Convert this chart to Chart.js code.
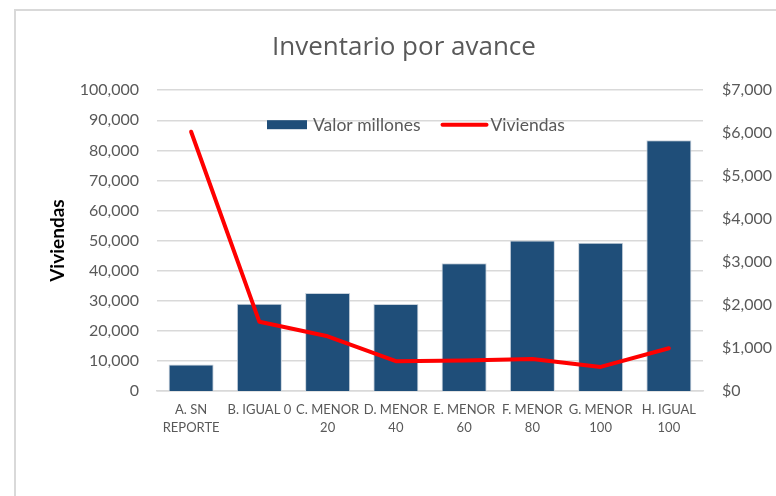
<!DOCTYPE html>
<html>
<head>
<meta charset="utf-8">
<script src="https://cdn.jsdelivr.net/npm/chart.js@4"></script>
<style>
  html, body { margin: 0; padding: 0; background: #fff; overflow: hidden; width: 776px; height: 496px; }
  #marco {
    position: absolute; left: 14px; top: 9px; width: 800px; height: 520px;
    border-left: 2px solid #d9d9d9; border-top: 2px solid #d9d9d9;
  }
  #grafico { position: absolute; left: 0; top: 0; }
</style>
</head>
<body>
<div id="marco"><canvas id="grafico" width="776" height="496"></canvas></div>
<script>
// ============================
// DATOS
// ============================
const categorias = [
    ["A. SN", "REPORTE"], ["B. IGUAL 0"], ["C. MENOR", "20"], ["D. MENOR", "40"],
    ["E. MENOR", "60"], ["F. MENOR", "80"], ["G. MENOR", "100"], ["H. IGUAL", "100"]
];
const valorMillones = [615, 2030, 2280, 2025, 2970, 3505, 3450, 5835];
const viviendas = [86200, 23000, 18200, 9900, 10150, 10650, 8000, 14200];

const ticksViviendas = [0, 100000, 10000];   // min, max, paso
const ticksValor = [0, 7000, 1000];

const fuente = "Lato, 'Open Sans', sans-serif";
const gris = "#595959";

// ============================
// LEYENDA DENTRO DEL AREA
// ============================
const leyendaInterna = {
    id: "leyendaInterna",
    afterDatasetsDraw(chart) {
        const ctx = chart.ctx;
        const area = chart.chartArea;
        const ds = chart.data.datasets;
        let x = area.left + 110;
        const y = area.top + 34.5;

        ctx.save();
        ctx.font = "17.5px " + fuente;
        ctx.textBaseline = "middle";

        // barras
        ctx.fillStyle = ds[0].backgroundColor;
        ctx.fillRect(x, y - 4.5, 40, 9);
        x += 46;
        ctx.fillStyle = gris;
        ctx.fillText(ds[0].label, x, y + 1);
        x += ctx.measureText(ds[0].label).width + 22;

        // linea
        ctx.strokeStyle = ds[1].borderColor;
        ctx.lineWidth = 4;
        ctx.lineCap = "round";
        ctx.beginPath();
        ctx.moveTo(x, y);
        ctx.lineTo(x + 44, y);
        ctx.stroke();
        x += 48;
        ctx.fillText(ds[1].label, x, y + 1);
        ctx.restore();
    }
};

// ============================
// GRAFICO
// ============================
new Chart(document.getElementById("grafico"), {
    data: {
        labels: categorias,
        datasets: [
            {
                type: "bar",
                label: "Valor millones",
                data: valorMillones,
                yAxisID: "yValor",
                backgroundColor: "#1F4E79",
                borderColor: "#c8d2dc",
                borderWidth: 1,
                barPercentage: 0.66,
                categoryPercentage: 1,
                order: 1
            },
            {
                type: "line",
                label: "Viviendas",
                data: viviendas,
                yAxisID: "yViv",
                borderColor: "#FF0000",
                backgroundColor: "#FF0000",
                borderWidth: 4,
                pointRadius: 0,
                tension: 0,
                borderJoinStyle: "round",
                borderCapStyle: "round",
                order: 0
            }
        ]
    },
    plugins: [leyendaInterna],
    options: {
        responsive: false,
        animation: false,
        layout: { padding: 0 },
        plugins: {
            tooltip: { enabled: false },
            legend: { display: false },
            title: {
                display: true,
                text: "Inventario por avance",
                color: gris,
                font: { family: "'Open Sans', sans-serif", size: 26, weight: "normal" },
                padding: { top: 21, bottom: 27 }
            }
        },
        scales: {
            x: {
                grid: { display: false, drawTicks: false },
                border: { color: "#d9d9d9", width: 1.5 },
                ticks: {
                    color: gris,
                    font: { family: fuente, size: 13, lineHeight: 1.4 },
                    padding: 10,
                    maxRotation: 0,
                    autoSkip: false
                },
                afterFit: (s) => { s.height = 116; }
            },
            yViv: {
                position: "left",
                min: ticksViviendas[0],
                max: ticksViviendas[1],
                grid: { color: "#d9d9d9", lineWidth: 1.5, drawTicks: false },
                border: { display: false },
                ticks: {
                    stepSize: ticksViviendas[2],
                    color: gris,
                    font: { family: fuente, size: 16 },
                    padding: 18,
                    callback: (v) => v.toLocaleString("en-US")
                },
                title: {
                    display: true,
                    text: "Viviendas",
                    color: "#000",
                    font: { family: fuente, size: 19, weight: "bold" },
                    padding: { top: 30, bottom: 0 }
                },
                afterFit: (s) => { s.width = 141; }
            },
            yValor: {
                position: "right",
                min: ticksValor[0],
                max: ticksValor[1],
                grid: { display: false, drawTicks: false },
                border: { display: false },
                ticks: {
                    stepSize: ticksValor[2],
                    color: gris,
                    font: { family: fuente, size: 16 },
                    padding: 19,
                    callback: (v) => "$" + v.toLocaleString("en-US")
                },
                afterFit: (s) => { s.width = 89; }
            }
        }
    }
});
</script>
</body>
</html>
